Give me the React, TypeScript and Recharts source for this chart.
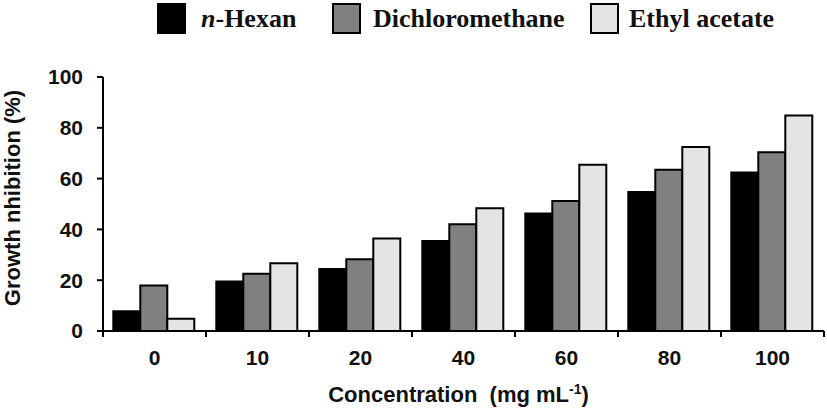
import React from 'react';
import { BarChart, Bar, XAxis, YAxis, Label } from 'recharts';

// values (growth inhibition, %)
const concentrations = ['0', '10', '20', '40', '60', '80', '100'];
const hexan = [7.8, 19.5, 24.4, 35.4, 46.3, 54.7, 62.4];
const dichloromethane = [17.9, 22.5, 28.2, 42.0, 51.2, 63.5, 70.4];
const ethylAcetate = [4.8, 26.7, 36.4, 48.3, 65.5, 72.4, 84.8];
const yTicks = [0, 20, 40, 60, 80, 100];

const series = [
    { key: 'hexan', name: 'n-Hexan', fill: '#000000' },
    { key: 'dcm', name: 'Dichloromethane', fill: '#808080' },
    { key: 'ea', name: 'Ethyl acetate', fill: '#e4e4e4' },
];

const data = concentrations.map((c, i) => ({
    conc: c,
    hexan: hexan[i],
    dcm: dichloromethane[i],
    ea: ethylAcetate[i],
}));

const W = 827;
const H = 412;
const TICK_SIZE = 6;
const X_TICK_MARGIN = 13;
const sans = 'Arial, "Liberation Sans", sans-serif';
const serif = '"Times New Roman", "Liberation Serif", serif';

// legend item left edges
const legendLeft = [157, 332, 590];

// x ticks sit on the category boundaries, not the centres
const BoundaryTick = (props: any) => {
    const { x, y, payload, index } = props;
    const half = payload?.offset ?? 0;
    const y0 = y - X_TICK_MARGIN - TICK_SIZE;
    const last = index === concentrations.length - 1;
    return (
        <g>
            <line x1={x - half} x2={x - half} y1={y0} y2={y0 + TICK_SIZE} stroke="#000" strokeWidth={2} />
            {last && <line x1={x + half} x2={x + half} y1={y0} y2={y0 + TICK_SIZE} stroke="#000" strokeWidth={2} />}
            <text x={x} y={y} dy="0.71em" textAnchor="middle" fontFamily={sans} fontWeight="bold" fontSize={21} fill="#111">
                {payload.value}
            </text>
        </g>
    );
};

const XTitle = (props: any) => {
    const { viewBox } = props;
    const cx = viewBox.x + viewBox.width / 2 - 5;
    return (
        <text x={cx} y={402} textAnchor="middle" fontFamily={sans} fontWeight="bold" fontSize={22} fill="#111">
            Concentration{'\u00a0\u00a0'}(mg mL
            <tspan dy={-8} fontSize={14}>-1</tspan>
            <tspan dy={8}>)</tspan>
        </text>
    );
};

const YTitle = () => (
    <text
        x={12}
        y={198}
        transform="rotate(-90, 12, 198)"
        textAnchor="middle"
        dominantBaseline="central"
        fontFamily={sans}
        fontWeight="bold"
        fontSize={22}
        fill="#111"
    >
        Growth  nhibition (%)
    </text>
);

const LegendBox = () => (
    <div style={{ position: 'absolute', left: 0, top: 0, width: W, height: 40 }}>
        {series.map((s, i) => (
            <div
                key={s.key}
                style={{ position: 'absolute', left: legendLeft[i], top: 3, display: 'flex', alignItems: 'center' }}
            >
                <div
                    style={{
                        width: 29,
                        height: 31,
                        boxSizing: 'border-box',
                        background: s.fill,
                        border: '2px solid #000',
                        marginRight: i === 0 ? 15 : i === 1 ? 12 : 10,
                    }}
                />
                <span style={{ fontFamily: serif, fontWeight: 'bold', fontSize: 26, color: '#111', whiteSpace: 'nowrap' }}>
                    {i === 0 ? (
                        <>
                            <i>n</i>-Hexan
                        </>
                    ) : (
                        s.name
                    )}
                </span>
            </div>
        ))}
    </div>
);

export default function App() {
    return (
        <div style={{ position: 'absolute', left: 0, top: 0, width: W, height: H, background: '#fff' }}>
            <BarChart
                width={W}
                height={H}
                data={data}
                margin={{ top: 77, right: 3, bottom: 0, left: 0 }}
                barCategoryGap="10%"
                barGap={0}
            >
                <XAxis
                    dataKey="conc"
                    height={81}
                    tickLine={false}
                    tickSize={TICK_SIZE}
                    tickMargin={X_TICK_MARGIN}
                    axisLine={{ stroke: '#000', strokeWidth: 2 }}
                    tick={<BoundaryTick />}
                    interval={0}
                >
                    <Label content={<XTitle />} />
                </XAxis>
                <YAxis
                    width={103}
                    domain={[0, 100]}
                    ticks={yTicks}
                    interval={0}
                    tickSize={TICK_SIZE}
                    tickMargin={14}
                    tickLine={{ stroke: '#000', strokeWidth: 2 }}
                    axisLine={{ stroke: '#000', strokeWidth: 2 }}
                    tick={{ fontFamily: sans, fontWeight: 'bold', fontSize: 21, fill: '#111' }}
                >
                    <Label content={<YTitle />} />
                </YAxis>
                {series.map((s) => (
                    <Bar
                        key={s.key}
                        dataKey={s.key}
                        name={s.name}
                        fill={s.fill}
                        stroke="#000"
                        strokeWidth={2}
                        isAnimationActive={false}
                    />
                ))}
            </BarChart>
            <LegendBox />
        </div>
    );
}
